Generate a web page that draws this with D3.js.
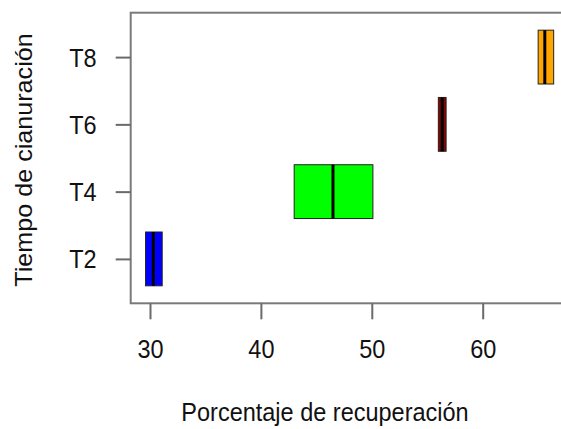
<!DOCTYPE html>
<html>
<head>
  <meta charset="utf-8">
  <title>boxplot</title>
  <script src="https://d3js.org/d3.v7.min.js"></script>
  <style>
    body { margin: 0; background: #fff; }
    text { font-family: "Liberation Sans", Arial, sans-serif; fill: #111; }
  </style>
</head>
<body>
<div id="chart"></div>
<script>
// data
var groups  = ["T2", "T4", "T6", "T8"];
var q1      = [29.6, 43.0, 56.0, 65.0];
var median  = [30.3, 46.5, 56.35, 65.6];
var q3      = [31.1, 50.1, 56.7, 66.4];
var colors  = ["#0000ff", "#00ff00", "#8b0000", "#ffa500"];
var xTicks  = [30, 40, 50, 60];

var width = 561, height = 429;
var fs = 23.5, stretch = 1.07; // original picture is a bit taller than wide

var svg = d3.select("#chart").append("svg")
    .attr("width", width)
    .attr("height", height);

// x: percent, frame runs off the right side like the original
var x = d3.scaleLinear()
    .domain([28.26, 68.5])
    .range([130.7, 130.7 + 40.24 * 11.09]);

// y: group index 1..4, padded 4% like R
var y = d3.scaleLinear()
    .domain([0.34, 4.66])
    .range([303.3, 12.7]);

// boxes
var boxes = svg.append("g");
groups.forEach(function(g, i) {
  var k = i + 1;
  boxes.append("rect")
    .attr("x", x(q1[i]))
    .attr("y", y(k + 0.4))
    .attr("width", x(q3[i]) - x(q1[i]))
    .attr("height", y(k - 0.4) - y(k + 0.4))
    .attr("fill", colors[i])
    .attr("stroke", "#222")
    .attr("stroke-width", 1);
  boxes.append("line")
    .attr("x1", x(median[i])).attr("x2", x(median[i]))
    .attr("y1", y(k + 0.4)).attr("y2", y(k - 0.4))
    .attr("stroke", "#000")
    .attr("stroke-width", 3);
});

// frame
svg.append("rect")
  .attr("x", x.range()[0])
  .attr("y", y.range()[1])
  .attr("width", x.range()[1] - x.range()[0])
  .attr("height", y.range()[0] - y.range()[1])
  .attr("fill", "none")
  .attr("stroke", "#7a7a7a")
  .attr("stroke-width", 2);

// x axis
var xAxis = svg.append("g")
  .attr("transform", "translate(0," + y.range()[0] + ")")
  .call(d3.axisBottom(x).tickValues(xTicks).tickSize(16));
xAxis.select(".domain").remove();
xAxis.selectAll(".tick line").attr("stroke", "#6a6a6a").attr("stroke-width", 2);
xAxis.selectAll(".tick text")
  .attr("y", null).attr("dy", null)
  .attr("transform", "translate(0,55) scale(1," + stretch + ")")
  .attr("font-size", fs).attr("fill", "#111")
  .attr("font-family", "Liberation Sans, Arial, sans-serif");

// y axis
var yAxis = svg.append("g")
  .attr("transform", "translate(" + x.range()[0] + ",0)")
  .call(d3.axisLeft(y).tickValues([1, 2, 3, 4])
    .tickFormat(function(d) { return groups[d - 1]; })
    .tickSize(15));
yAxis.select(".domain").remove();
yAxis.selectAll(".tick line").attr("stroke", "#6a6a6a").attr("stroke-width", 2);
yAxis.selectAll(".tick text")
  .attr("x", null).attr("dy", null)
  .attr("transform", "translate(-34,9) scale(1," + stretch + ")")
  .attr("font-size", fs).attr("fill", "#111")
  .attr("font-family", "Liberation Sans, Arial, sans-serif");

// axis titles
svg.append("text")
  .attr("transform", "translate(325,421) scale(1," + stretch + ")")
  .attr("text-anchor", "middle")
  .attr("font-size", fs)
  .text("Porcentaje de recuperación");

svg.append("text")
  .attr("transform", "translate(32,160) scale(1," + stretch + ") rotate(-90)")
  .attr("text-anchor", "middle")
  .attr("font-size", fs)
  .text("Tiempo de cianuración");
</script>
</body>
</html>
